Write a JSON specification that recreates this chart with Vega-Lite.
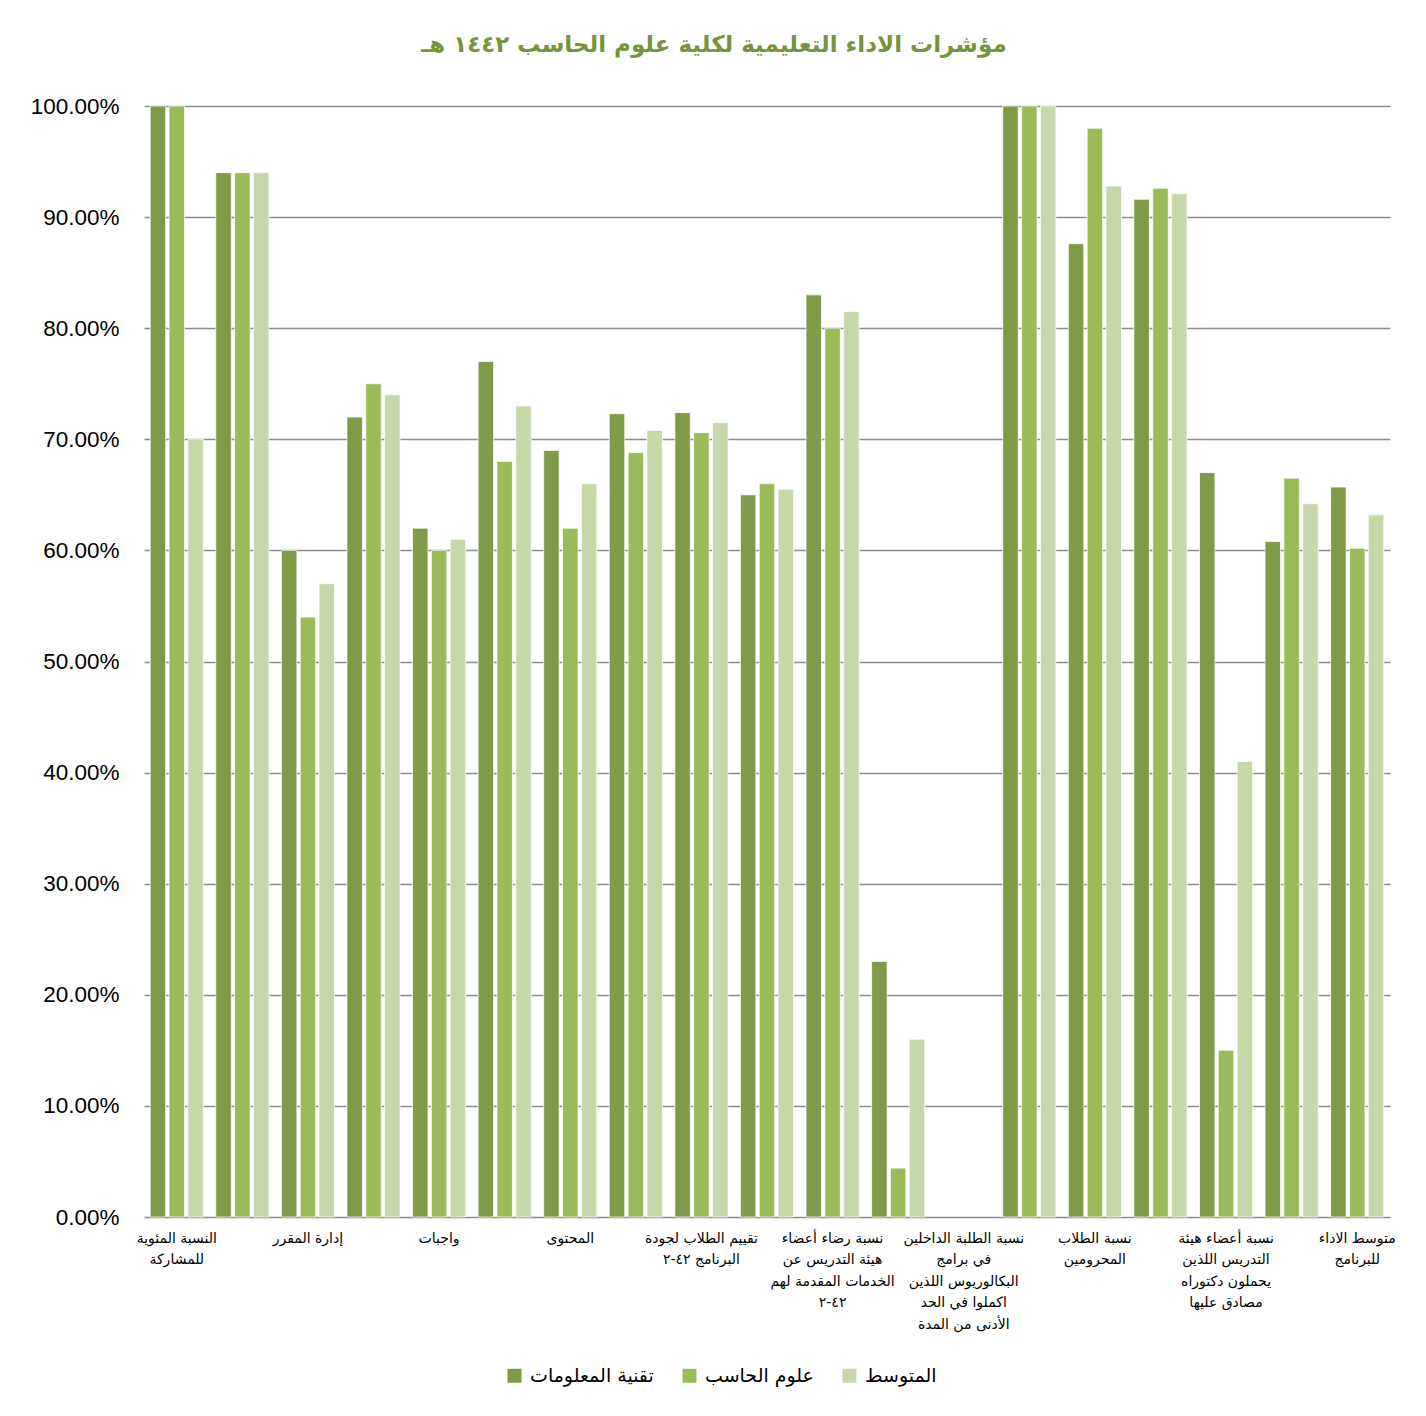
{
  "$schema": "https://vega.github.io/schema/vega-lite/v6.json",
  "width": 1246,
  "height": 1111,
  "autosize": {"type": "none"},
  "padding": {"left": 144, "top": 106, "right": 36, "bottom": 199},
  "background": "white",
  "title": {
    "text": "مؤشرات الاداء  التعليمية لكلية علوم الحاسب ١٤٤٢ هـ",
    "font": "DejaVu Sans",
    "fontSize": 23,
    "fontWeight": "bold",
    "color": "#77933C",
    "anchor": "middle",
    "dx": -53,
    "offset": 38
  },
  "data": {
    "values": [
      {"category": "النسبة المئوية\nللمشاركة", "تقنية المعلومات": 100, "علوم الحاسب": 100, "المتوسط": 70},
      {"category": "مؤشر ٢", "تقنية المعلومات": 94, "علوم الحاسب": 94, "المتوسط": 94},
      {"category": "إدارة المقرر", "تقنية المعلومات": 60, "علوم الحاسب": 54, "المتوسط": 57},
      {"category": "مؤشر ٤", "تقنية المعلومات": 72, "علوم الحاسب": 75, "المتوسط": 74},
      {"category": "واجبات", "تقنية المعلومات": 62, "علوم الحاسب": 60, "المتوسط": 61},
      {"category": "مؤشر ٦", "تقنية المعلومات": 77, "علوم الحاسب": 68, "المتوسط": 73},
      {"category": "المحتوى", "تقنية المعلومات": 69, "علوم الحاسب": 62, "المتوسط": 66},
      {"category": "مؤشر ٨", "تقنية المعلومات": 72.3, "علوم الحاسب": 68.8, "المتوسط": 70.8},
      {"category": "تقييم الطلاب لجودة\nالبرنامج  ٤٢-٢", "تقنية المعلومات": 72.4, "علوم الحاسب": 70.6, "المتوسط": 71.5},
      {"category": "مؤشر ١٠", "تقنية المعلومات": 65, "علوم الحاسب": 66, "المتوسط": 65.5},
      {"category": "نسبة رضاء أعضاء\nهيئة التدريس عن\nالخدمات المقدمة لهم\n٤٢-٢", "تقنية المعلومات": 83, "علوم الحاسب": 80, "المتوسط": 81.5},
      {"category": "مؤشر ١٢", "تقنية المعلومات": 23, "علوم الحاسب": 4.4, "المتوسط": 16},
      {"category": "نسبة الطلبة الداخلين\nفي برامج\nالبكالوريوس اللذين\nاكملوا في الحد\nالأدنى من المدة", "تقنية المعلومات": null, "علوم الحاسب": null, "المتوسط": null},
      {"category": "مؤشر ١٤", "تقنية المعلومات": 100, "علوم الحاسب": 100, "المتوسط": 100},
      {"category": "نسبة الطلاب\nالمحرومين", "تقنية المعلومات": 87.6, "علوم الحاسب": 98, "المتوسط": 92.8},
      {"category": "مؤشر ١٦", "تقنية المعلومات": 91.6, "علوم الحاسب": 92.6, "المتوسط": 92.1},
      {"category": "نسبة أعضاء هيئة\nالتدريس اللذين\nيحملون دكتوراه\nمصادق عليها", "تقنية المعلومات": 67, "علوم الحاسب": 15, "المتوسط": 41},
      {"category": "مؤشر ١٨", "تقنية المعلومات": 60.8, "علوم الحاسب": 66.5, "المتوسط": 64.2},
      {"category": "متوسط الاداء\nللبرنامج", "تقنية المعلومات": 65.7, "علوم الحاسب": 60.2, "المتوسط": 63.2}
    ]
  },
  "transform": [
    {"fold": ["تقنية المعلومات", "علوم الحاسب", "المتوسط"], "as": ["series", "value"]}
  ],
  "mark": {"type": "bar", "stroke": "white", "strokeWidth": 1, "strokeOpacity": 0.7},
  "encoding": {
    "x": {
      "field": "category",
      "type": "nominal",
      "scale": {
        "domain": [
          "النسبة المئوية\nللمشاركة", "مؤشر ٢", "إدارة المقرر", "مؤشر ٤", "واجبات", "مؤشر ٦", "المحتوى", "مؤشر ٨",
          "تقييم الطلاب لجودة\nالبرنامج  ٤٢-٢", "مؤشر ١٠",
          "نسبة رضاء أعضاء\nهيئة التدريس عن\nالخدمات المقدمة لهم\n٤٢-٢", "مؤشر ١٢",
          "نسبة الطلبة الداخلين\nفي برامج\nالبكالوريوس اللذين\nاكملوا في الحد\nالأدنى من المدة", "مؤشر ١٤",
          "نسبة الطلاب\nالمحرومين", "مؤشر ١٦",
          "نسبة أعضاء هيئة\nالتدريس اللذين\nيحملون دكتوراه\nمصادق عليها", "مؤشر ١٨",
          "متوسط الاداء\nللبرنامج"
        ],
        "paddingInner": 0.19,
        "paddingOuter": 0.095
      },
      "axis": {
        "title": null,
        "ticks": false,
        "domain": false,
        "labelAngle": 0,
        "labelFont": "DejaVu Sans",
        "labelFontSize": 14,
        "labelColor": "black",
        "labelLineHeight": 21.5,
        "labelBaseline": "top",
        "labelPadding": 14,
        "labelLimit": 300,
        "labelExpr": "round(datum.index * 18) % 2 == 0 ? split(datum.label, '\\n') : ''"
      }
    },
    "xOffset": {
      "field": "series",
      "scale": {"domain": ["تقنية المعلومات", "علوم الحاسب", "المتوسط"], "paddingInner": 0.18}
    },
    "y": {
      "field": "value",
      "type": "quantitative",
      "scale": {"domain": [0, 100]},
      "axis": {
        "title": null,
        "values": [0, 10, 20, 30, 40, 50, 60, 70, 80, 90, 100],
        "labelExpr": "format(datum.value / 100, '.2%')",
        "labelFont": "Liberation Sans",
        "labelFontSize": 22.5,
        "labelColor": "black",
        "labelPadding": 25,
        "ticks": false,
        "domain": false,
        "gridColor": "#8C8C8C",
        "gridWidth": 1.5
      }
    },
    "color": {
      "field": "series",
      "type": "nominal",
      "scale": {
        "domain": ["تقنية المعلومات", "علوم الحاسب", "المتوسط"],
        "range": ["#7F9B49", "#9BBB59", "#C6D7AA"]
      },
      "legend": {
        "orient": "none",
        "legendX": 361,
        "legendY": 1260,
        "direction": "horizontal",
        "title": null,
        "symbolType": "square",
        "symbolSize": 196,
        "symbolStrokeWidth": 0,
        "labelFont": "DejaVu Sans",
        "labelFontSize": 19,
        "labelColor": "black",
        "labelOffset": 6,
        "columnPadding": 26
      }
    }
  },
  "config": {"view": {"stroke": null}}
}
